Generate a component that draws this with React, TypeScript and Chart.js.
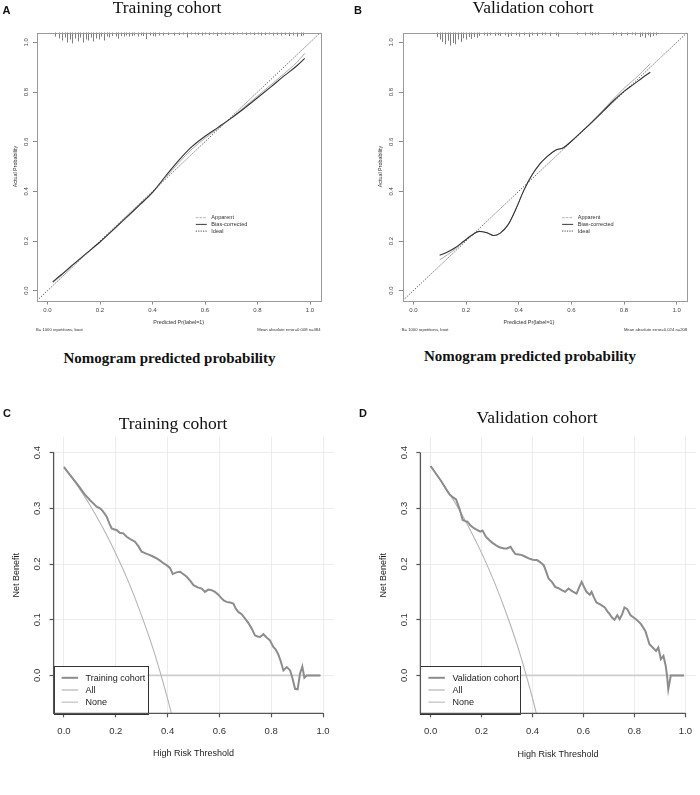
import React, { useEffect, useRef } from 'react';
import { Chart, registerables } from 'chart.js';

Chart.register(...registerables);
Chart.defaults.font.family = "'Liberation Sans', Arial, sans-serif";

// ---------------- Data ----------------
const calTicks = [0, 0.2, 0.4, 0.6, 0.8, 1.0];
const idealX = [-0.04, 1.04];
const idealY = [-0.04, 1.04];

// Training calibration (panel A)
const trainPred = [0.02, 0.05, 0.1, 0.15, 0.2, 0.25, 0.3, 0.35, 0.4, 0.45, 0.5, 0.55, 0.6, 0.65, 0.7, 0.75, 0.8, 0.85, 0.9, 0.95, 0.98];
const trainBias = [0.036, 0.062, 0.108, 0.152, 0.196, 0.245, 0.295, 0.345, 0.396, 0.462, 0.525, 0.58, 0.622, 0.658, 0.695, 0.735, 0.777, 0.82, 0.864, 0.906, 0.936];
const trainApparent = [0.032, 0.058, 0.105, 0.15, 0.196, 0.244, 0.292, 0.342, 0.394, 0.455, 0.515, 0.57, 0.614, 0.653, 0.695, 0.74, 0.784, 0.828, 0.873, 0.92, 0.956];
const trainRugX = [0.03, 0.045, 0.055, 0.065, 0.075, 0.085, 0.095, 0.105, 0.115, 0.125, 0.135, 0.145, 0.155, 0.165, 0.175, 0.185, 0.195, 0.205, 0.215, 0.225, 0.235, 0.245, 0.26, 0.27, 0.28, 0.29, 0.3, 0.31, 0.32, 0.33, 0.345, 0.355, 0.365, 0.375, 0.39, 0.4, 0.41, 0.425, 0.44, 0.46, 0.48, 0.5, 0.515, 0.53, 0.545, 0.56, 0.575, 0.59, 0.6, 0.615, 0.63, 0.645, 0.66, 0.675, 0.69, 0.705, 0.72, 0.74, 0.755, 0.77, 0.785, 0.8, 0.815, 0.83, 0.845, 0.86, 0.875, 0.89, 0.905, 0.92, 0.935, 0.95, 0.965, 0.975];
const trainRugFreq = [0.3, 0.5, 0.7, 0.4, 0.9, 0.6, 1.0, 0.5, 0.8, 0.4, 0.9, 0.6, 0.7, 0.4, 0.8, 0.5, 0.6, 0.3, 0.7, 0.3, 0.4, 0.25, 0.3, 0.5, 0.25, 0.3, 0.2, 0.3, 0.25, 0.2, 0.3, 0.2, 0.25, 0.55, 0.2, 0.25, 0.3, 0.2, 0.2, 0.15, 0.2, 0.15, 0.1, 0.4, 0.1, 0.1, 0.15, 0.2, 0.1, 0.15, 0.1, 0.25, 0.1, 0.15, 0.1, 0.15, 0.1, 0.1, 0.15, 0.1, 0.15, 0.1, 0.2, 0.15, 0.1, 0.2, 0.15, 0.2, 0.15, 0.25, 0.2, 0.3, 0.25, 0.2];

// Validation calibration (panel B)
const valPred = [0.1, 0.13, 0.16, 0.19, 0.22, 0.25, 0.28, 0.305, 0.33, 0.36, 0.39, 0.42, 0.45, 0.48, 0.51, 0.54, 0.57, 0.6, 0.64, 0.68, 0.72, 0.76, 0.8, 0.84, 0.87, 0.9];
const valBias = [0.143, 0.156, 0.174, 0.198, 0.222, 0.239, 0.233, 0.222, 0.232, 0.266, 0.33, 0.405, 0.465, 0.51, 0.542, 0.566, 0.576, 0.602, 0.641, 0.68, 0.722, 0.765, 0.803, 0.834, 0.858, 0.88];
const valApparent = [0.124, 0.145, 0.168, 0.195, 0.221, 0.239, 0.233, 0.222, 0.232, 0.266, 0.33, 0.405, 0.465, 0.51, 0.542, 0.566, 0.576, 0.602, 0.642, 0.683, 0.727, 0.772, 0.815, 0.852, 0.882, 0.915];
const valRugX = [0.09, 0.1, 0.11, 0.12, 0.13, 0.14, 0.15, 0.16, 0.17, 0.18, 0.19, 0.2, 0.21, 0.22, 0.23, 0.24, 0.25, 0.27, 0.28, 0.29, 0.31, 0.32, 0.33, 0.35, 0.36, 0.37, 0.39, 0.4, 0.42, 0.44, 0.45, 0.47, 0.49, 0.5, 0.52, 0.54, 0.55, 0.62, 0.65, 0.67, 0.68, 0.69, 0.7, 0.76, 0.77, 0.79, 0.81, 0.83, 0.84, 0.86, 0.87, 0.88, 0.89, 0.9, 0.91, 0.92];
const valRugFreq = [0.3, 0.5, 0.7, 0.9, 0.6, 1.0, 0.8, 0.9, 0.5, 0.7, 0.4, 0.5, 0.3, 0.45, 0.3, 0.35, 0.2, 0.15, 0.2, 0.15, 0.2, 0.15, 0.2, 0.15, 0.3, 0.2, 0.15, 0.25, 0.15, 0.3, 0.15, 0.2, 0.15, 0.1, 0.2, 0.15, 0.25, 0.1, 0.15, 0.1, 0.15, 0.1, 0.1, 0.15, 0.1, 0.2, 0.15, 0.1, 0.15, 0.3, 0.2, 0.35, 0.15, 0.3, 0.2, 0.15];

// Decision curves (panels C and D)
const dcaXTicks = [0, 0.2, 0.4, 0.6, 0.8, 1.0];
const dcaYTicks = [0, 0.1, 0.2, 0.3, 0.4];

const trainThr = [0, 0.02, 0.04, 0.06, 0.08, 0.09, 0.1, 0.115, 0.126, 0.139, 0.15, 0.165, 0.175, 0.184, 0.195, 0.203, 0.215, 0.229, 0.242, 0.258, 0.274, 0.287, 0.3, 0.315, 0.332, 0.345, 0.358, 0.371, 0.385, 0.396, 0.409, 0.42, 0.434, 0.448, 0.46, 0.474, 0.487, 0.5, 0.516, 0.532, 0.544, 0.557, 0.57, 0.583, 0.596, 0.609, 0.618, 0.628, 0.641, 0.654, 0.663, 0.673, 0.686, 0.699, 0.712, 0.725, 0.737, 0.747, 0.757, 0.77, 0.782, 0.795, 0.808, 0.817, 0.827, 0.837, 0.847, 0.86, 0.873, 0.882, 0.892, 0.902, 0.911, 0.92, 0.928, 0.937, 0.95, 0.97, 0.99];
const trainNB = [0.374, 0.362, 0.35, 0.338, 0.325, 0.32, 0.315, 0.308, 0.303, 0.3, 0.295, 0.285, 0.273, 0.264, 0.262, 0.261, 0.256, 0.255, 0.249, 0.244, 0.24, 0.232, 0.222, 0.219, 0.216, 0.213, 0.21, 0.206, 0.201, 0.198, 0.193, 0.182, 0.185, 0.186, 0.182, 0.177, 0.17, 0.162, 0.158, 0.156, 0.15, 0.154, 0.153, 0.15, 0.145, 0.138, 0.134, 0.132, 0.131, 0.129, 0.12, 0.114, 0.11, 0.102, 0.094, 0.084, 0.072, 0.07, 0.069, 0.074, 0.068, 0.063, 0.051, 0.047, 0.038, 0.025, 0.009, 0.015, 0.009, -0.005, -0.024, -0.025, 0.003, 0.016, -0.004, 0, 0, 0, 0];
const trainAllThr = [0, 0.05, 0.1, 0.15, 0.2, 0.25, 0.3, 0.35, 0.4, 0.42];
const trainAllNB = [0.375, 0.342, 0.306, 0.265, 0.219, 0.167, 0.107, 0.039, -0.042, -0.078];
const trainNoneThr = [0, 0.99];
const trainNoneNB = [0, 0];

const valThr = [0, 0.02, 0.04, 0.06, 0.074, 0.087, 0.1, 0.113, 0.126, 0.136, 0.145, 0.155, 0.165, 0.175, 0.184, 0.195, 0.204, 0.217, 0.23, 0.243, 0.256, 0.27, 0.288, 0.3, 0.314, 0.323, 0.333, 0.346, 0.359, 0.372, 0.385, 0.398, 0.408, 0.418, 0.431, 0.444, 0.454, 0.463, 0.476, 0.489, 0.5, 0.515, 0.528, 0.541, 0.557, 0.573, 0.583, 0.593, 0.603, 0.612, 0.625, 0.632, 0.641, 0.651, 0.667, 0.684, 0.694, 0.703, 0.712, 0.722, 0.733, 0.742, 0.752, 0.761, 0.772, 0.785, 0.8, 0.813, 0.826, 0.843, 0.851, 0.859, 0.872, 0.885, 0.894, 0.904, 0.914, 0.923, 0.928, 0.933, 0.943, 0.96, 0.98, 0.995];
const valNB = [0.376, 0.363, 0.35, 0.335, 0.325, 0.32, 0.316, 0.3, 0.279, 0.277, 0.276, 0.27, 0.266, 0.263, 0.261, 0.258, 0.26, 0.249, 0.243, 0.238, 0.234, 0.23, 0.228, 0.228, 0.231, 0.224, 0.218, 0.217, 0.216, 0.213, 0.21, 0.208, 0.207, 0.207, 0.203, 0.198, 0.186, 0.174, 0.168, 0.159, 0.157, 0.153, 0.15, 0.156, 0.151, 0.147, 0.158, 0.168, 0.158, 0.15, 0.145, 0.15, 0.14, 0.131, 0.127, 0.122, 0.115, 0.11, 0.104, 0.1, 0.108, 0.101, 0.11, 0.122, 0.119, 0.108, 0.103, 0.098, 0.092, 0.08, 0.068, 0.056, 0.05, 0.044, 0.05, 0.029, 0.035, 0.017, 0.0, -0.025, 0, 0, 0, 0];
const valAllThr = [0, 0.05, 0.1, 0.15, 0.2, 0.25, 0.3, 0.35, 0.4, 0.42];
const valAllNB = [0.376, 0.343, 0.307, 0.266, 0.22, 0.168, 0.108, 0.04, -0.041, -0.077];
const valNoneThr = [0, 0.995];
const valNoneNB = [0, 0];

// ---------------- Helpers ----------------
const zip = (xs: number[], ys: number[]) => xs.map((x, i) => ({ x, y: ys[i] }));
const fixedTicks = (vals: number[]) => (scale: any) => {
  scale.ticks = vals.map((v) => ({ value: v }));
};

type CalOpts = {
  pred: number[]; bias: number[]; apparent: number[];
  rugX: number[]; rugF: number[]; rugMax: number;
  yWidth: number; padRight: number; yTickPad: number; yTitlePad: number;
  xTitleDx: number; mae: string;
};

function makeCalibration(canvas: HTMLCanvasElement, o: CalOpts) {
  const plotTop = 32.5;
  const xAxisH = 39.4;
  const extras = {
    id: 'calExtras',
    afterDatasetsDraw(chart: any) {
      const { ctx, chartArea: ca, scales } = chart;
      const xs = scales.x, ys = scales.y;
      ctx.save();
      // rug
      ctx.strokeStyle = '#7e7e7e';
      ctx.lineWidth = 1;
      o.rugX.forEach((v, i) => {
        const px = Math.round(xs.getPixelForValue(v)) + 0.5;
        ctx.beginPath();
        ctx.moveTo(px, ca.top);
        ctx.lineTo(px, ca.top + 1 + o.rugF[i] * o.rugMax);
        ctx.stroke();
      });
      // legend
      const items = [
        { t: 'Apparent', c: '#b0b0b0', d: [2.5, 1.2], w: 1 },
        { t: 'Bias-corrected', c: '#3a3a3a', d: [], w: 1 },
        { t: 'Ideal', c: '#444', d: [1.2, 1.2], w: 1 },
      ];
      const rowY = [0.294, 0.267, 0.24];
      ctx.font = "5.6px 'Liberation Sans', Arial";
      ctx.textBaseline = 'middle';
      items.forEach((it, i) => {
        const py = ys.getPixelForValue(rowY[i]);
        ctx.strokeStyle = it.c;
        ctx.lineWidth = it.w;
        ctx.setLineDash(it.d);
        ctx.beginPath();
        ctx.moveTo(xs.getPixelForValue(0.565), py);
        ctx.lineTo(xs.getPixelForValue(0.607), py);
        ctx.stroke();
        ctx.setLineDash([]);
        ctx.fillStyle = '#333';
        ctx.fillText(it.t, xs.getPixelForValue(0.624), py);
      });
      ctx.restore();
    },
    afterDraw(chart: any) {
      const { ctx, chartArea: ca } = chart;
      ctx.save();
      ctx.strokeStyle = '#9a9a9a';
      ctx.lineWidth = 1;
      ctx.strokeRect(Math.round(ca.left) + 0.5, Math.round(ca.top) + 0.5, Math.round(ca.right - ca.left), Math.round(ca.bottom - ca.top));
      ctx.fillStyle = '#333';
      ctx.textBaseline = 'middle';
      ctx.font = "5.4px 'Liberation Sans', Arial";
      ctx.textAlign = 'center';
      ctx.fillText('Predicted Pr{label=1}', (ca.left + ca.right) / 2 + o.xTitleDx, 322.7);
      ctx.font = "4.2px 'Liberation Sans', Arial";
      ctx.textAlign = 'left';
      ctx.fillText('B= 1000 repetitions, boot', ca.left - 1, 330);
      ctx.textAlign = 'right';
      ctx.fillText(o.mae, ca.right, 330);
      ctx.restore();
    },
  };

  return new Chart(canvas, {
    type: 'scatter',
    data: {
      datasets: [
        {
          label: 'Bias-corrected',
          data: zip(o.pred, o.bias),
          showLine: true, borderColor: '#333', borderWidth: 1.1, pointRadius: 0,
          cubicInterpolationMode: 'monotone',
        } as any,
        {
          label: 'Apparent',
          data: zip(o.pred, o.apparent),
          showLine: true, borderColor: '#ababab', borderWidth: 1, pointRadius: 0,
          cubicInterpolationMode: 'monotone',
        },
        {
          label: 'Ideal',
          data: zip(idealX, idealY),
          showLine: true, borderColor: '#4a4a4a', borderWidth: 0.9, pointRadius: 0,
          borderDash: [1.3, 1.5],
        },
      ],
    },
    options: {
      responsive: false,
      animation: false,
      layout: { padding: { top: plotTop, right: o.padRight, left: 0, bottom: 0 } },
      plugins: { legend: { display: false }, tooltip: { enabled: false } },
      scales: {
        x: {
          type: 'linear', min: -0.04, max: 1.04,
          afterBuildTicks: fixedTicks(calTicks),
          afterFit: (s: any) => { s.height = xAxisH; },
          grid: { display: true, drawOnChartArea: false, drawTicks: true, tickLength: 4, tickColor: '#8a8a8a' },
          border: { display: false },
          ticks: { font: { size: 6 }, color: '#444', padding: 1.8, maxRotation: 0, autoSkip: false, callback: (v: any) => Number(v).toFixed(1) },
        },
        y: {
          type: 'linear', min: -0.04, max: 1.04,
          afterBuildTicks: fixedTicks(calTicks),
          afterFit: (s: any) => { s.width = o.yWidth; },
          grid: { display: true, drawOnChartArea: false, drawTicks: true, tickLength: 4, tickColor: '#8a8a8a' },
          border: { display: false },
          ticks: { font: { size: 6 }, color: '#444', padding: o.yTickPad, minRotation: 90, maxRotation: 90, crossAlign: 'center', autoSkip: false, callback: (v: any) => Number(v).toFixed(1) },
          title: { display: true, text: 'Actual Probability', font: { size: 5.4 }, color: '#333', padding: { top: o.yTitlePad, bottom: 0 } },
        },
      },
    } as any,
    plugins: [extras],
  });
}

type DcaOpts = {
  thr: number[]; nb: number[]; allThr: number[]; allNB: number[]; noneThr: number[]; noneNB: number[];
  label: string; yWidth: number; padRight: number; yTickPad: number; yTitlePad: number; xTitlePad: number;
};

function makeDca(canvas: HTMLCanvasElement, o: DcaOpts) {
  const plotTop = 37;
  const xAxisH = 56.7;
  const colModel = '#8c8c8c';
  const colAll = '#b4b4b4';
  const colNone = '#cdcdcd';
  const extras = {
    id: 'dcaExtras',
    afterDatasetsDraw(chart: any) {
      const { ctx, chartArea: ca, scales } = chart;
      const xs = scales.x, ys = scales.y;
      ctx.save();
      // legend
      const items = [
        { t: o.label, c: colModel, w: 2 },
        { t: 'All', c: colAll, w: 1.2 },
        { t: 'None', c: colNone, w: 1.5 },
      ];
      ctx.font = "9px 'Liberation Sans', Arial";
      const tw = Math.max(...items.map((it) => ctx.measureText(it.t).width));
      const bw = 32 + tw + 2;
      const bh = 47.5;
      const bx = ca.left;
      const by = ca.bottom - bh;
      ctx.fillStyle = '#fff';
      ctx.fillRect(bx, by, bw, bh);
      ctx.strokeStyle = '#333';
      ctx.lineWidth = 1;
      ctx.strokeRect(Math.round(bx) + 0.5, Math.round(by) + 0.5, Math.round(bw), Math.round(bh));
      ctx.textBaseline = 'middle';
      items.forEach((it, i) => {
        const py = ca.bottom - 35.5 + i * 12.2;
        ctx.strokeStyle = it.c;
        ctx.lineWidth = it.w;
        ctx.beginPath();
        ctx.moveTo(bx + 8, py);
        ctx.lineTo(bx + 24.5, py);
        ctx.stroke();
        ctx.fillStyle = '#222';
        ctx.fillText(it.t, bx + 32, py + 0.5);
      });
      // L-shaped axis lines
      ctx.strokeStyle = '#555';
      ctx.lineWidth = 1.3;
      ctx.beginPath();
      ctx.moveTo(ca.left, ys.getPixelForValue(0.4));
      ctx.lineTo(ca.left, ca.bottom);
      ctx.lineTo(xs.getPixelForValue(1.0), ca.bottom);
      ctx.stroke();
      ctx.restore();
    },
  };

  return new Chart(canvas, {
    type: 'scatter',
    data: {
      datasets: [
        { label: o.label, data: zip(o.thr, o.nb), showLine: true, borderColor: colModel, borderWidth: 2, pointRadius: 0, tension: 0 },
        { label: 'All', data: zip(o.allThr, o.allNB), showLine: true, borderColor: colAll, borderWidth: 1.1, pointRadius: 0, cubicInterpolationMode: 'monotone' } as any,
        { label: 'None', data: zip(o.noneThr, o.noneNB), showLine: true, borderColor: colNone, borderWidth: 1.6, pointRadius: 0 },
      ],
    },
    options: {
      responsive: false,
      animation: false,
      layout: { padding: { top: plotTop, right: o.padRight, left: 0, bottom: 0 } },
      plugins: { legend: { display: false }, tooltip: { enabled: false } },
      scales: {
        x: {
          type: 'linear', min: -0.04, max: 1.04,
          afterBuildTicks: fixedTicks(dcaXTicks),
          afterFit: (s: any) => { s.height = xAxisH; },
          grid: { color: '#ececec', lineWidth: 1, drawTicks: true, tickLength: 4, tickColor: '#555', tickWidth: 1.2 },
          border: { display: false },
          ticks: { font: { size: 9.5 }, color: '#333', padding: 8, maxRotation: 0, autoSkip: false, callback: (v: any) => Number(v).toFixed(1) },
          title: { display: true, text: 'High Risk Threshold', font: { size: 9 }, color: '#222', padding: { top: 0, bottom: o.xTitlePad } },
        },
        y: {
          type: 'linear', min: -0.068, max: 0.428,
          afterBuildTicks: fixedTicks(dcaYTicks),
          afterFit: (s: any) => { s.width = o.yWidth; },
          grid: { color: '#ececec', lineWidth: 1, drawTicks: true, tickLength: 4, tickColor: '#555', tickWidth: 1.2 },
          border: { display: false },
          ticks: { font: { size: 9.5 }, color: '#333', padding: o.yTickPad, minRotation: 90, maxRotation: 90, crossAlign: 'center', autoSkip: false, callback: (v: any) => Number(v).toFixed(1) },
          title: { display: true, text: 'Net Benefit', font: { size: 9 }, color: '#222', padding: { top: o.yTitlePad, bottom: 0 } },
        },
      },
    } as any,
    plugins: [extras],
  });
}

type Rect = { left: number; top: number; width: number; height: number };

function ChartBox({ rect, make }: { rect: Rect; make: (c: HTMLCanvasElement) => Chart }) {
  const ref = useRef<HTMLCanvasElement>(null);
  useEffect(() => {
    const chart = make(ref.current as HTMLCanvasElement);
    return () => chart.destroy();
  }, []);
  return (
    <canvas
      ref={ref}
      width={rect.width}
      height={rect.height}
      style={{ position: 'absolute', left: rect.left, top: rect.top, width: rect.width, height: rect.height, display: 'block' }}
    />
  );
}

type TxtProps = { text: string; x: number; baseline: number; size: number; serif?: boolean; bold?: boolean; center?: boolean };

function Txt({ text, x, baseline, size, serif, bold, center }: TxtProps) {
  const off = serif ? 0.837 : 0.8465;
  const style: React.CSSProperties = {
    position: 'absolute',
    top: baseline - off * size,
    left: center ? x - 200 : x,
    width: center ? 400 : undefined,
    textAlign: center ? 'center' : 'left',
    fontSize: size,
    lineHeight: `${size}px`,
    fontFamily: serif ? "'Liberation Serif', 'Times New Roman', serif" : "'Liberation Sans', Arial, sans-serif",
    fontWeight: bold ? 'bold' : 'normal',
    color: '#111',
    whiteSpace: 'nowrap',
  };
  return <div style={style}>{text}</div>;
}

export default function App() {
  return (
    <div style={{ position: 'absolute', left: 0, top: 0, width: 700, height: 795, background: '#fff', overflow: 'hidden' }}>
      <ChartBox
        rect={{ left: 0, top: 0, width: 350, height: 340 }}
        make={(c) => makeCalibration(c, {
          pred: trainPred, bias: trainBias, apparent: trainApparent,
          rugX: trainRugX, rugF: trainRugFreq, rugMax: 10,
          yWidth: 37, padRight: 29.5, yTickPad: 2.1, yTitlePad: 11.8, xTitleDx: 0,
          mae: 'Mean absolute error=0.008 n=484',
        })}
      />
      <ChartBox
        rect={{ left: 350, top: 0, width: 350, height: 340 }}
        make={(c) => makeCalibration(c, {
          pred: valPred, bias: valBias, apparent: valApparent,
          rugX: valRugX, rugF: valRugFreq, rugMax: 12,
          yWidth: 52.8, padRight: 12.8, yTickPad: 2.9, yTitlePad: 26.8, xTitleDx: -16,
          mae: 'Mean absolute error=0.024 n=208',
        })}
      />
      <ChartBox
        rect={{ left: 0, top: 400, width: 350, height: 370 }}
        make={(c) => makeDca(c, {
          thr: trainThr, nb: trainNB, allThr: trainAllThr, allNB: trainAllNB, noneThr: trainNoneThr, noneNB: trainNoneNB,
          label: 'Training cohort', yWidth: 53.6, padRight: 16.6, yTickPad: 5.7, yTitlePad: 11.6, xTitlePad: 10.6,
        })}
      />
      <ChartBox
        rect={{ left: 350, top: 400, width: 350, height: 370 }}
        make={(c) => makeDca(c, {
          thr: valThr, nb: valNB, allThr: valAllThr, allNB: valAllNB, noneThr: valNoneThr, noneNB: valNoneNB,
          label: 'Validation cohort', yWidth: 70.4, padRight: 1.4, yTickPad: 5.8, yTitlePad: 27.9, xTitlePad: 9.6,
        })}
      />

      <Txt text="A" x={2.5} baseline={14} size={11} bold />
      <Txt text="Training cohort" x={167} baseline={13.6} size={17.5} serif center />
      <Txt text="B" x={354} baseline={14} size={11} bold />
      <Txt text="Validation cohort" x={533} baseline={13.6} size={17.5} serif center />
      <Txt text="Nomogram predicted probability" x={169.5} baseline={364} size={15} serif bold center />
      <Txt text="Nomogram predicted probability" x={530} baseline={362} size={15} serif bold center />
      <Txt text="C" x={3} baseline={417} size={11} bold />
      <Txt text="Training cohort" x={173} baseline={429.8} size={17.5} serif center />
      <Txt text="D" x={359} baseline={417} size={11} bold />
      <Txt text="Validation cohort" x={537} baseline={423.8} size={17.5} serif center />
    </div>
  );
}
